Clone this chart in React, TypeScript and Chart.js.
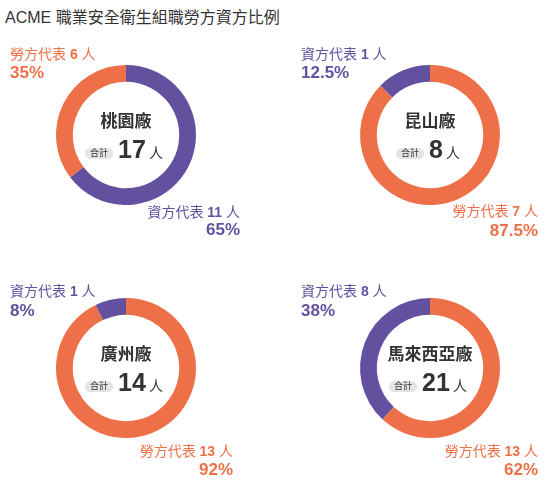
import React, { useEffect, useRef } from "react";
import { Chart, registerables } from "chart.js";

Chart.register(...registerables);

const TITLE = "ACME 職業安全衛生組職勞方資方比例";
const factories = ["桃園廠", "昆山廠", "廣州廠", "馬來西亞廠"];
const laborCounts = [6, 7, 13, 13];
const employerCounts = [11, 1, 1, 8];
const laborPctLabels = ["35%", "87.5%", "92%", "62%"];
const employerPctLabels = ["65%", "12.5%", "8%", "38%"];
const seriesNames = ["勞方代表", "資方代表"];
const unit = "人";
const totalTag = "合計";

const LABOR_COLOR = "#EE7049";
const EMPLOYER_COLOR = "#6351A0";
const FONT = "'Liberation Sans', 'Noto Sans CJK TC', sans-serif";

// layout per quadrant (canvas placement, donut centre, label anchors) – styling only
const layouts = [
  { left: 0, top: 35, w: 280, h: 235, cx: 126, cy: 100, sx: 10, sy1: 20, sy2: 38, bx: 240, by1: 178, by2: 195 },
  { left: 280, top: 35, w: 280, h: 235, cx: 150, cy: 100, sx: 21, sy1: 20, sy2: 38, bx: 258, by1: 177, by2: 196 },
  { left: 0, top: 270, w: 280, h: 234, cx: 126, cy: 98, sx: 10, sy1: 22, sy2: 41, bx: 233, by1: 182, by2: 200 },
  { left: 280, top: 270, w: 280, h: 234, cx: 150, cy: 98, sx: 21, sy1: 22, sy2: 41, bx: 258, by1: 182, by2: 200 },
];
const RADIUS = 70;

function drawParts(ctx: CanvasRenderingContext2D, parts: { t: string; f: string }[], x: number, y: number, align: "left" | "right" | "center") {
  const widths = parts.map((p) => {
    ctx.font = p.f;
    return ctx.measureText(p.t).width;
  });
  const total = widths.reduce((a, b) => a + b, 0);
  let cur = align === "left" ? x : align === "right" ? x - total : x - total / 2;
  ctx.textAlign = "left";
  parts.forEach((p, i) => {
    ctx.font = p.f;
    ctx.fillText(p.t, cur, y);
    cur += widths[i];
  });
}

function DonutPanel({ idx }: { idx: number }) {
  const ref = useRef<HTMLCanvasElement | null>(null);
  const L = layouts[idx];
  useEffect(() => {
    if (!ref.current) return;
    const labor = laborCounts[idx];
    const employer = employerCounts[idx];
    const laborFirst = labor >= employer;
    const values = laborFirst ? [labor, employer] : [employer, labor];
    const colors = laborFirst ? [LABOR_COLOR, EMPLOYER_COLOR] : [EMPLOYER_COLOR, LABOR_COLOR];
    const labels = laborFirst ? [seriesNames[0], seriesNames[1]] : [seriesNames[1], seriesNames[0]];
    const pcts = laborFirst ? [laborPctLabels[idx], employerPctLabels[idx]] : [employerPctLabels[idx], laborPctLabels[idx]];
    const total = labor + employer;

    const overlay = {
      id: "overlay" + idx,
      afterDraw(chart: any) {
        const ctx = chart.ctx as CanvasRenderingContext2D;
        const meta = chart.getDatasetMeta(0);
        const arc = meta.data[0];
        const cx = arc.x;
        const cy = arc.y;
        ctx.save();
        ctx.textBaseline = "middle";
        // centre name
        ctx.fillStyle = "#333333";
        ctx.font = `bold 17px ${FONT}`;
        ctx.textAlign = "center";
        ctx.fillText(factories[idx], cx, cy - 13);
        // total row
        const tagFont = `9px ${FONT}`;
        const numFont = `bold 25px ${FONT}`;
        const unitFont = `14px ${FONT}`;
        ctx.font = tagFont;
        const tagW = ctx.measureText(totalTag).width + 10;
        ctx.font = numFont;
        const numW = ctx.measureText(String(total)).width;
        ctx.font = unitFont;
        const unitW = ctx.measureText(unit).width;
        const gap1 = 5, gap2 = 3;
        const rowW = tagW + gap1 + numW + gap2 + unitW;
        let x0 = cx - rowW / 2 - 2;
        const baseY = cy + 23;
        // pill
        const ph = 11, py = cy + 13;
        ctx.fillStyle = "#E4E4E4";
        ctx.beginPath();
        (ctx as any).roundRect(x0, py, tagW, ph, ph / 2);
        ctx.fill();
        ctx.fillStyle = "#333333";
        ctx.font = tagFont;
        ctx.textAlign = "center";
        ctx.fillText(totalTag, x0 + tagW / 2, py + ph / 2 + 0.5);
        x0 += tagW + gap1;
        ctx.textBaseline = "alphabetic";
        ctx.textAlign = "left";
        ctx.font = numFont;
        ctx.fillText(String(total), x0, baseY);
        x0 += numW + gap2;
        ctx.font = unitFont;
        ctx.fillText(unit, x0, baseY);

        // segment labels
        ctx.textBaseline = "middle";
        const nf = `14px ${FONT}`;
        const bf = `bold 14px ${FONT}`;
        const pf = `bold 17px ${FONT}`;
        // small segment (index 1) top-left
        ctx.fillStyle = colors[1];
        drawParts(ctx, [
          { t: labels[1] + " ", f: nf },
          { t: String(values[1]), f: bf },
          { t: " " + unit, f: nf },
        ], L.sx, L.sy1, "left");
        ctx.font = pf;
        ctx.textAlign = "left";
        ctx.fillText(pcts[1], L.sx, L.sy2);
        // large segment (index 0) bottom-right
        ctx.fillStyle = colors[0];
        drawParts(ctx, [
          { t: labels[0] + " ", f: nf },
          { t: String(values[0]), f: bf },
          { t: " " + unit, f: nf },
        ], L.bx, L.by1, "right");
        ctx.font = pf;
        ctx.textAlign = "right";
        ctx.fillText(pcts[0], L.bx, L.by2);
        ctx.restore();
      },
    };

    const chart = new Chart(ref.current, {
      type: "doughnut",
      data: {
        labels,
        datasets: [
          {
            data: values,
            backgroundColor: colors,
            borderWidth: 0,
            hoverOffset: 0,
          },
        ],
      },
      options: {
        responsive: false,
        animation: false,
        cutout: "76%",
        rotation: 0,
        layout: {
          padding: {
            left: L.cx - RADIUS,
            right: L.w - L.cx - RADIUS,
            top: L.cy - RADIUS,
            bottom: L.h - L.cy - RADIUS,
          },
        },
        plugins: {
          legend: { display: false },
          tooltip: { enabled: false },
          title: { display: false },
        },
        events: [],
      },
      plugins: [overlay],
    });
    return () => chart.destroy();
  }, [idx]);
  return (
    <canvas
      ref={ref}
      width={L.w}
      height={L.h}
      style={{ position: "absolute", left: L.left, top: L.top, width: L.w, height: L.h }}
    />
  );
}

export default function App() {
  return (
    <div
      style={{
        position: "fixed",
        left: 0,
        top: 0,
        width: 560,
        height: 504,
        background: "#ffffff",
        overflow: "hidden",
      }}
    >
      <div
        style={{
          position: "absolute",
          left: 5,
          top: 8,
          fontFamily: FONT,
          fontSize: 16,
          lineHeight: "20px",
          color: "#333333",
          whiteSpace: "nowrap",
        }}
      >
        {TITLE}
      </div>
      {factories.map((_, i) => (
        <DonutPanel key={i} idx={i} />
      ))}
    </div>
  );
}
